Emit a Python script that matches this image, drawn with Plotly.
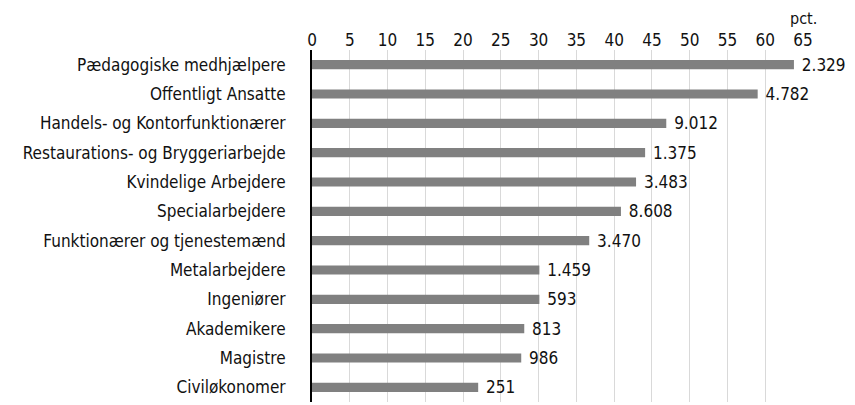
import plotly.graph_objects as go

categories = [
    "Pædagogiske medhjælpere",
    "Offentligt Ansatte",
    "Handels- og Kontorfunktionærer",
    "Restaurations- og Bryggeriarbejde",
    "Kvindelige Arbejdere",
    "Specialarbejdere",
    "Funktionærer og tjenestemænd",
    "Metalarbejdere",
    "Ingeniører",
    "Akademikere",
    "Magistre",
    "Civiløkonomer",
]
pct_values = [63.8, 59.0, 46.9, 44.1, 42.9, 40.9, 36.7, 30.1, 30.1, 28.1, 27.7, 22.0]
count_labels = ["2.329", "4.782", "9.012", "1.375", "3.483", "8.608", "3.470",
                "1.459", "593", "813", "986", "251"]
x_ticks = list(range(0, 70, 5))

FONT = "DejaVu Sans Condensed"
FS = 17
TXT = "#111111"

fig = go.Figure(go.Bar(
    x=pct_values,
    y=categories,
    orientation="h",
    marker=dict(color="#808080", line=dict(width=0)),
    width=0.31,
    text=[" " + t for t in count_labels],
    textposition="outside",
    constraintext="none",
    textfont=dict(family=FONT, size=FS, color=TXT),
    cliponaxis=False,
))

fig.update_layout(
    width=855,
    height=405,
    margin=dict(l=304, r=60, t=42, b=11, autoexpand=False),
    paper_bgcolor="white",
    plot_bgcolor="white",
    showlegend=False,
    font=dict(family=FONT, size=FS, color=TXT),
    xaxis=dict(
        range=[0, 65],
        side="top",
        tickvals=x_ticks,
        ticktext=[str(v) for v in x_ticks],
        showgrid=True,
        gridcolor="#d9d9d9",
        gridwidth=1,
        zeroline=False,
        showline=False,
        ticks="",
        ticklabelstandoff=0,
        automargin=False,
        tickfont=dict(family=FONT, size=FS, color=TXT),
        fixedrange=True,
    ),
    yaxis=dict(
        autorange="reversed",
        showline=True,
        linecolor="#000000",
        linewidth=2,
        ticks="",
        ticklabelstandoff=21,
        automargin=False,
        tickfont=dict(family=FONT, size=FS, color=TXT),
        showgrid=False,
    ),
    annotations=[dict(
        text="pct.",
        x=65, xref="x", xanchor="center",
        y=1.0, yref="paper", yanchor="middle", yshift=32,
        borderpad=0,
        showarrow=False,
        font=dict(family=FONT, size=16, color=TXT),
    )],
)

fig.write_html("out.html")
